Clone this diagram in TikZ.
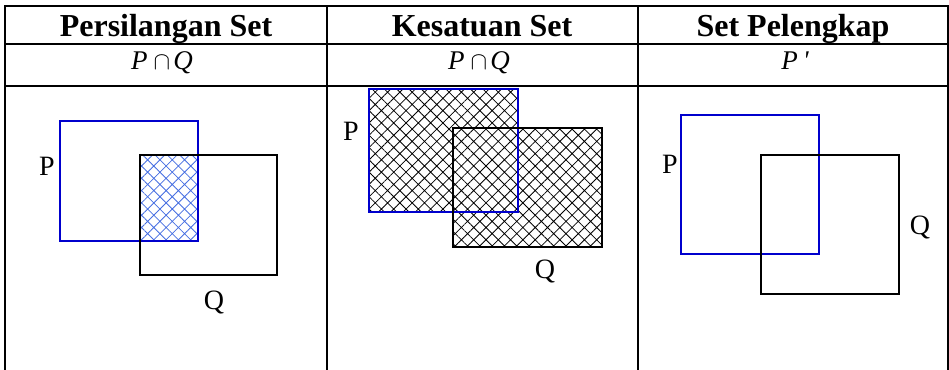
\documentclass[tikz,border=0pt]{standalone}
\usepackage{fontspec}
\setmainfont{Liberation Serif}
\usetikzlibrary{patterns.meta}
\definecolor{setP}{RGB}{0,0,205}
\definecolor{hatchP}{RGB}{70,110,225}
\newcommand{\bigcapsym}{{\fontsize{33}{36}\selectfont$\cap$}}

\begin{document}
\begin{tikzpicture}[x=1pt,y=-1pt,
    grid/.style={line width=2.2pt,line cap=rect},
    setbox/.style={line width=2.2pt},
    head/.style={anchor=base,font=\fontsize{32}{38}\selectfont\bfseries},
    sym/.style={anchor=base,font=\fontsize{27}{30}\selectfont\itshape},
    lbl/.style={anchor=base,font=\fontsize{28}{32}\selectfont},
    xhatch/.style={pattern={Hatch[angle=45,distance=8.7pt,line width=0.8pt]}}]
    \useasboundingbox (0,0) rectangle (949,369);
    % table
    \draw[grid] (5,6) -- (948,6);
    \draw[grid] (5,44) -- (948,44);
    \draw[grid] (5,86) -- (948,86);
    \foreach \x in {5,327,638,948}
      \draw[grid] (\x,6) -- (\x,375);
    \node[head] (hdrA) at (166,37) {Persilangan Set};
    \node[head] (hdrB) at (482,37) {Kesatuan Set};
    \node[head] (hdrC) at (793,37) {Set Pelengkap};
    \node[sym] (symA) at (162,70) {P\hspace{6pt}\bigcapsym\hspace{3pt}Q};
    \node[sym] (symB) at (479,70) {P\hspace{6pt}\bigcapsym\hspace{3pt}Q};
    \node[sym] (symC) at (795,70) {P\hspace{5pt}\textquotesingle};

    % intersection
    \fill[xhatch,pattern color=hatchP] (140,155) rectangle (198,241);
    \draw[setbox,setP] (60,121) rectangle (198,241);
    \draw[setbox] (140,155) rectangle (277,275);
    \node[lbl] (labPa) at (47,175) {P};
    \node[lbl] (labQa) at (214,309) {Q};

    % union
    \fill[xhatch] (369,89) rectangle (518,212) (453,128) rectangle (602,247);
    \draw[setbox,setP] (369,89) rectangle (518,212);
    \draw[setbox] (453,128) rectangle (602,247);
    \node[lbl] (labPb) at (351,140) {P};
    \node[lbl] (labQb) at (545,278) {Q};

    % complement
    \draw[setbox,setP] (681,115) rectangle (819,254);
    \draw[setbox] (761,155) rectangle (899,294);
    \node[lbl] (labPc) at (670,173) {P};
    \node[lbl] (labQc) at (920,234) {Q};
\end{tikzpicture}
\end{document}
